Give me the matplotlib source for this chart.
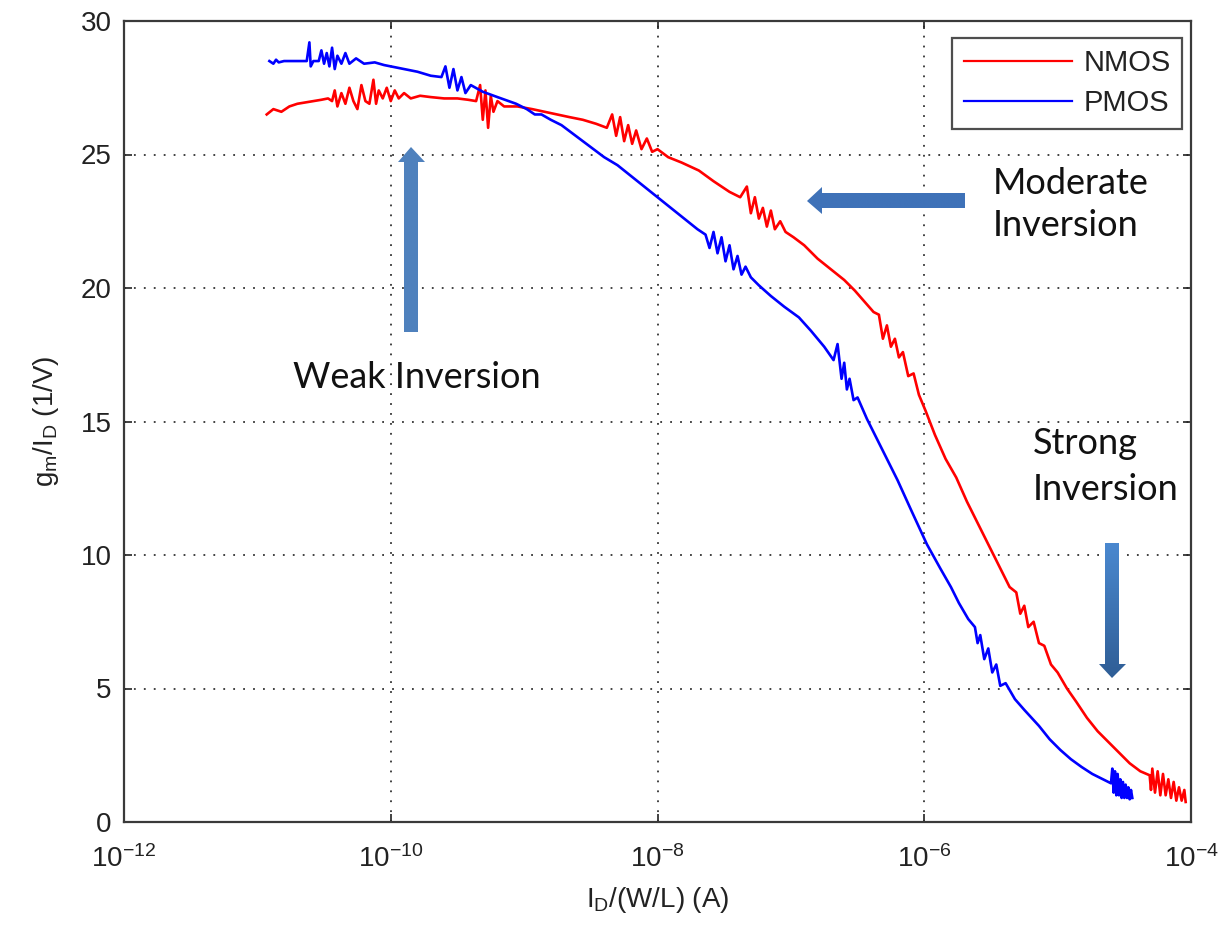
import numpy as np
import matplotlib
matplotlib.use("Agg")
import matplotlib.pyplot as plt
from matplotlib.patches import Polygon
from matplotlib.colors import LinearSegmentedColormap
from matplotlib.ticker import FixedLocator, FuncFormatter, NullLocator

plt.rcParams['font.family'] = ['Liberation Sans', 'DejaVu Sans']
plt.rcParams['mathtext.fontset'] = 'custom'
plt.rcParams['mathtext.rm'] = 'Liberation Sans'
plt.rcParams['mathtext.it'] = 'Liberation Sans'

# ---- data (log10 of I_D/(W/L) in A, and gm/ID in 1/V) ----
nmos_logx = [-10.93, -10.88, -10.82, -10.76, -10.70, -10.64, -10.58, -10.52, -10.47, -10.44,
             -10.42, -10.40, -10.37, -10.34, -10.31, -10.28, -10.25, -10.22, -10.19, -10.16,
             -10.13, -10.11, -10.09, -10.06, -10.03, -10.00, -9.97, -9.94, -9.90, -9.85,
             -9.78, -9.70, -9.60, -9.50, -9.42, -9.36, -9.33, -9.31, -9.29, -9.27,
             -9.25, -9.23, -9.20, -9.15, -9.05, -8.94, -8.80, -8.66, -8.56, -8.46,
             -8.38, -8.34, -8.31, -8.28, -8.25, -8.22, -8.19, -8.16, -8.12, -8.08,
             -8.04, -8.00, -7.92, -7.82, -7.69, -7.58, -7.46, -7.38, -7.33, -7.30,
             -7.27, -7.24, -7.21, -7.18, -7.15, -7.12, -7.08, -7.04, -6.98, -6.90,
             -6.80, -6.70, -6.60, -6.52, -6.45, -6.38, -6.34, -6.31, -6.28, -6.25,
             -6.22, -6.19, -6.16, -6.12, -6.08, -6.04, -5.99, -5.92, -5.84, -5.76,
             -5.68, -5.60, -5.52, -5.44, -5.36, -5.31, -5.28, -5.25, -5.22, -5.18,
             -5.14, -5.10, -5.05, -5.00, -4.93, -4.86, -4.78, -4.70, -4.62, -4.54,
             -4.46, -4.38, -4.31, -4.30, -4.29, -4.27, -4.25, -4.23, -4.21, -4.19,
             -4.17, -4.15, -4.13, -4.11, -4.09, -4.07, -4.05, -4.04]
nmos_gm = [26.5, 26.7, 26.6, 26.8, 26.9, 26.95, 27.0, 27.05, 27.1, 27.0,
           27.4, 26.8, 27.3, 26.9, 27.5, 27.0, 26.7, 27.6, 27.0, 26.9,
           27.8, 26.9, 27.4, 27.1, 27.5, 27.0, 27.4, 27.1, 27.3, 27.1,
           27.2, 27.15, 27.1, 27.1, 27.05, 27.0, 27.6, 26.3, 27.4, 26.0,
           27.2, 26.6, 27.0, 26.8, 26.8, 26.7, 26.55, 26.4, 26.3, 26.15,
           26.0, 26.5, 25.7, 26.4, 25.5, 26.1, 25.4, 25.9, 25.2, 25.6,
           25.1, 25.2, 24.9, 24.7, 24.4, 24.0, 23.6, 23.4, 23.8, 22.8,
           23.4, 22.6, 23.0, 22.3, 22.9, 22.2, 22.5, 22.1, 21.9, 21.6,
           21.1, 20.7, 20.3, 19.9, 19.5, 19.1, 19.0, 18.1, 18.6, 17.8,
           18.1, 17.4, 17.6, 16.7, 16.8, 16.0, 15.4, 14.5, 13.6, 12.9,
           12.0, 11.2, 10.4, 9.6, 8.8, 8.6, 7.8, 8.1, 7.3, 7.5,
           6.7, 6.6, 5.9, 5.6, 5.0, 4.5, 3.9, 3.4, 3.0, 2.6,
           2.2, 1.9, 1.75, 1.2, 2.0, 1.1, 1.9, 1.0, 1.8, 1.0,
           1.6, 0.9, 1.5, 0.8, 1.3, 0.8, 1.2, 0.75]

pmos_logx = [-10.91, -10.88, -10.86, -10.84, -10.80, -10.70, -10.63, -10.61, -10.60, -10.58,
             -10.54, -10.52, -10.50, -10.48, -10.46, -10.44, -10.42, -10.40, -10.37, -10.34,
             -10.31, -10.26, -10.20, -10.12, -10.05, -10.00, -9.90, -9.80, -9.70, -9.62,
             -9.59, -9.56, -9.53, -9.50, -9.47, -9.44, -9.40, -9.31, -9.20, -9.06,
             -8.98, -8.92, -8.87, -8.80, -8.72, -8.64, -8.56, -8.48, -8.40, -8.30,
             -8.20, -8.10, -8.00, -7.90, -7.80, -7.70, -7.64, -7.61, -7.58, -7.55,
             -7.52, -7.49, -7.46, -7.43, -7.40, -7.37, -7.34, -7.30, -7.24, -7.15,
             -7.05, -6.94, -6.85, -6.75, -6.68, -6.65, -6.62, -6.60, -6.58, -6.56,
             -6.53, -6.50, -6.43, -6.31, -6.20, -6.10, -5.98, -5.88, -5.80, -5.74,
             -5.67, -5.62, -5.60, -5.58, -5.55, -5.52, -5.49, -5.46, -5.43, -5.39,
             -5.32, -5.25, -5.14, -5.06, -4.98, -4.90, -4.82, -4.74, -4.66, -4.60,
             -4.59, -4.58, -4.57, -4.56, -4.55, -4.54, -4.53, -4.52, -4.51, -4.50,
             -4.49, -4.48, -4.47, -4.46, -4.45, -4.44]
pmos_gm = [28.5, 28.4, 28.55, 28.45, 28.5, 28.5, 28.5, 29.2, 28.3, 28.5,
           28.5, 28.9, 28.4, 28.8, 28.3, 29.0, 28.2, 28.7, 28.4, 28.8,
           28.4, 28.6, 28.4, 28.45, 28.35, 28.3, 28.2, 28.1, 27.95, 27.9,
           28.3, 27.5, 28.2, 27.4, 27.9, 27.3, 27.6, 27.35, 27.15, 26.9,
           26.7, 26.5, 26.5, 26.3, 26.1, 25.8, 25.5, 25.2, 24.9, 24.6,
           24.2, 23.8, 23.4, 23.0, 22.6, 22.2, 22.0, 21.5, 22.1, 21.3,
           21.9, 21.0, 21.6, 20.7, 21.2, 20.5, 20.8, 20.4, 20.1, 19.7,
           19.3, 18.9, 18.4, 17.8, 17.3, 17.9, 16.6, 17.2, 16.2, 16.6,
           15.8, 15.9, 15.1, 13.9, 12.8, 11.7, 10.4, 9.5, 8.8, 8.2,
           7.6, 7.3, 6.7, 7.0, 6.1, 6.5, 5.6, 5.9, 5.1, 5.2,
           4.6, 4.2, 3.6, 3.1, 2.7, 2.35, 2.06, 1.8, 1.6, 1.45,
           2.0, 1.1, 1.9, 1.0, 1.8, 1.0, 1.6, 0.9, 1.5, 0.9,
           1.4, 0.9, 1.3, 0.85, 1.2, 0.9]

series_names = ["NMOS", "PMOS"]
x_ticks = [1e-12, 1e-10, 1e-8, 1e-6, 1e-4]
y_ticks = [0, 5, 10, 15, 20, 25, 30]

W, H = 1228, 926
fig = plt.figure(figsize=(W / 100, H / 100), dpi=100)
ax = fig.add_axes([124 / W, (H - 822) / H, (1191 - 124) / W, (822 - 21) / H])

ax.plot(10.0 ** np.array(nmos_logx), nmos_gm, color='#ff0000', lw=1.9, label=series_names[0])
ax.plot(10.0 ** np.array(pmos_logx), pmos_gm, color='#0000ff', lw=1.9, label=series_names[1])

ax.set_xscale('log')
ax.set_xlim(1e-12, 1e-4)
ax.set_ylim(0, 30)
ax.xaxis.set_major_locator(FixedLocator(x_ticks))
ax.xaxis.set_minor_locator(NullLocator())
ax.yaxis.set_major_locator(FixedLocator(y_ticks))
ax.xaxis.set_major_formatter(FuncFormatter(
    lambda v, p: r'$\mathregular{10^{%d}}$' % int(round(np.log10(v)))))
ax.grid(True, which='major', linestyle=(0, (1, 4.5)), color='#333333', lw=1.3)
ax.tick_params(direction='in', top=True, right=True, length=6, width=1.2,
               labelsize=20, colors='#222222', pad=9)
ax.tick_params(axis='x', pad=17)
for s in ax.spines.values():
    s.set_linewidth(1.6)
    s.set_color('#3a3a3a')

ax.set_xlabel(r'$\mathregular{I_D}$/(W/L) (A)', fontsize=20, color='#222222', labelpad=8)
ax.set_ylabel(r'$\mathregular{g_m/I_D}$ (1/V)', fontsize=20, color='#222222', labelpad=14)

leg = ax.legend(loc='upper right', bbox_to_anchor=(0.992, 0.979), borderaxespad=0,
                fontsize=21, frameon=True, fancybox=False, handlelength=3.7,
                labelspacing=0.4, borderpad=0.4, handletextpad=0.4)
leg.get_frame().set_edgecolor('#222222')
leg.get_frame().set_linewidth(1.6)
for t in leg.get_texts():
    t.set_color('#222222')
for l in leg.get_lines():
    l.set_linewidth(1.6)

# ---- annotation overlay in pixel coordinates ----
ov = fig.add_axes([0, 0, 1, 1], zorder=5)
ov.set_xlim(0, W)
ov.set_ylim(H, 0)
ov.axis('off')
ov.patch.set_alpha(0)

def arrow_poly(pts, c_top, c_bot, y0, y1, x0, x1):
    poly = Polygon(pts, closed=True, facecolor='none', edgecolor='none')
    ov.add_patch(poly)
    grad = np.linspace(0, 1, 64).reshape(-1, 1)
    cm = LinearSegmentedColormap.from_list('g', [c_top, c_bot])
    im = ov.imshow(grad, cmap=cm, extent=(x0, x1, y1, y0), aspect='auto',
                   interpolation='bilinear')
    im.set_clip_path(poly)

# up arrow (weak inversion)
up = [(404, 332), (418, 332), (418, 162), (425, 162), (411, 147), (398, 162), (404, 162)]
arrow_poly(up, '#4f81bd', '#4f81bd', 147, 332, 398, 425)
# left arrow (moderate inversion)
lf = [(965, 193), (965, 208), (822, 208), (822, 214), (807, 201), (822, 187), (822, 193)]
arrow_poly(lf, '#3f72b8', '#3f72b8', 187, 214, 807, 965)
# down arrow (strong inversion)
dn = [(1105, 543), (1119, 543), (1119, 664), (1126, 664), (1112, 678), (1099, 664), (1105, 664)]
arrow_poly(dn, '#4a88cf', '#2f5e96', 543, 678, 1099, 1126)
ov.set_xlim(0, W)
ov.set_ylim(H, 0)

tf = ['Lato', 'DejaVu Sans']
fs = 26
ov.text(417, 378, 'Weak Inversion', fontsize=fs, family=tf, ha='center', va='center', color='#111111')
ov.text(993, 183, 'Moderate', fontsize=fs, family=tf, ha='left', va='center', color='#111111')
ov.text(993, 226, 'Inversion', fontsize=fs, family=tf, ha='left', va='center', color='#111111')
ov.text(1033, 444, 'Strong', fontsize=fs, family=tf, ha='left', va='center', color='#111111')
ov.text(1033, 490, 'Inversion', fontsize=fs, family=tf, ha='left', va='center', color='#111111')

fig.savefig('out.png', dpi=100)
